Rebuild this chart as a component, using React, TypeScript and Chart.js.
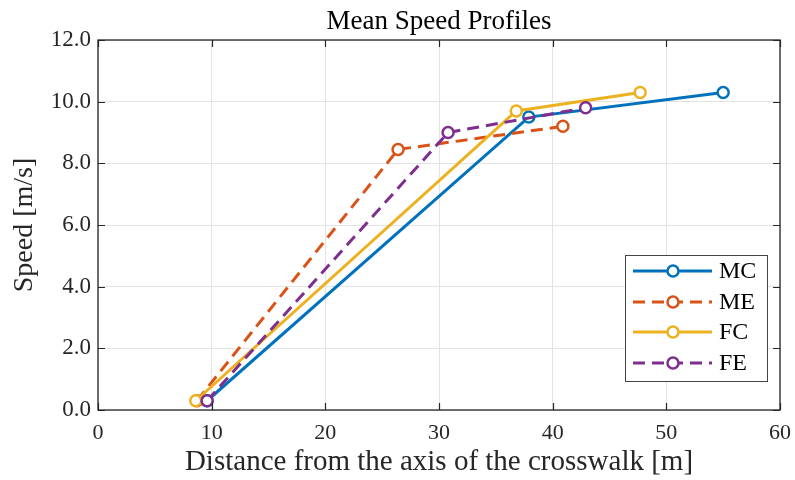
import React, { useEffect, useRef } from "react";
import { Chart, registerables } from "chart.js";

Chart.register(...registerables);

const seriesLabels = ["MC", "ME", "FC", "FE"];
const seriesColors = ["#0072BD", "#D95319", "#EDB120", "#7E2F8E"];
const seriesDashed = [false, true, false, true];

const mcX = [9.6, 37.9, 55.0];
const mcY = [0.3, 9.5, 10.3];
const meX = [8.7, 26.4, 40.9];
const meY = [0.3, 8.45, 9.2];
const fcX = [8.6, 36.8, 47.7];
const fcY = [0.3, 9.7, 10.3];
const feX = [9.6, 30.8, 42.9];
const feY = [0.3, 9.0, 9.8];

const xTicks = [0, 10, 20, 30, 40, 50, 60];
const yTicks = [0, 2, 4, 6, 8, 10, 12];

const titleText = "Mean Speed Profiles";
const xTitle = "Distance from the axis of the crosswalk [m]";
const yTitle = "Speed [m/s]";

const FONT = "'Liberation Serif', serif";
const DASH = [12, 7];

const xs = [mcX, meX, fcX, feX];
const ys = [mcY, meY, fcY, feY];

const frame = {
  id: "frame",
  afterDatasetsDraw(chart: any) {
    const { ctx, chartArea: a, scales } = chart;
    ctx.save();
    ctx.strokeStyle = "#262626";
    ctx.lineWidth = 1.2;
    const tl = 7;
    ctx.beginPath();
    for (const v of xTicks) {
      const px = Math.round(scales.x.getPixelForValue(v)) + 0.5;
      ctx.moveTo(px, a.bottom);
      ctx.lineTo(px, a.bottom - tl);
      ctx.moveTo(px, a.top);
      ctx.lineTo(px, a.top + tl);
    }
    for (const v of yTicks) {
      const py = Math.round(scales.y.getPixelForValue(v)) + 0.5;
      ctx.moveTo(a.left, py);
      ctx.lineTo(a.left + tl, py);
      ctx.moveTo(a.right, py);
      ctx.lineTo(a.right - tl, py);
    }
    ctx.stroke();
    ctx.lineWidth = 1.3;
    ctx.strokeRect(a.left, a.top, a.right - a.left, a.bottom - a.top);

    // title
    ctx.fillStyle = "#000";
    ctx.font = `27px ${FONT}`;
    ctx.textAlign = "center";
    ctx.textBaseline = "alphabetic";
    ctx.fillText(titleText, (a.left + a.right) / 2, 29);

    // legend
    const lx = 625, ly = 255, lw = 142, lh = 126;
    ctx.fillStyle = "#fff";
    ctx.fillRect(lx, ly, lw, lh);
    ctx.strokeStyle = "#444";
    ctx.lineWidth = 1;
    ctx.strokeRect(lx + 0.5, ly + 0.5, lw, lh);
    const rows = [271, 302, 332, 363];
    seriesLabels.forEach((lab, i) => {
      const y = rows[i];
      ctx.strokeStyle = seriesColors[i];
      ctx.lineWidth = 3;
      ctx.setLineDash(seriesDashed[i] ? DASH : []);
      ctx.beginPath();
      ctx.moveTo(633, y);
      ctx.lineTo(712, y);
      ctx.stroke();
      ctx.setLineDash([]);
      ctx.fillStyle = "#fff";
      ctx.lineWidth = 2.5;
      ctx.beginPath();
      ctx.arc(673, y, 5.5, 0, Math.PI * 2);
      ctx.fill();
      ctx.stroke();
      ctx.fillStyle = "#000";
      ctx.font = `24px ${FONT}`;
      ctx.textAlign = "left";
      ctx.textBaseline = "middle";
      ctx.fillText(lab, 719, y + 1);
    });
    ctx.restore();
  },
};

export default function App() {
  const ref = useRef<HTMLCanvasElement | null>(null);
  useEffect(() => {
    document.body.style.margin = "0";
    const canvas = ref.current!;
    const order = [3, 2, 1, 0];
    const chart = new Chart(canvas, {
      type: "line",
      data: {
        datasets: seriesLabels.map((lab, i) => ({
          label: lab,
          data: xs[i].map((x, j) => ({ x, y: ys[i][j] })),
          borderColor: seriesColors[i],
          backgroundColor: "#ffffff",
          pointBackgroundColor: "#ffffff",
          pointBorderColor: seriesColors[i],
          pointBorderWidth: 2.5,
          pointRadius: 5.5,
          borderWidth: 3,
          borderDash: seriesDashed[i] ? DASH : [],
          tension: 0,
          fill: false,
          order: order[i],
        })),
      },
      options: {
        animation: false,
        responsive: false,
        events: [],
        layout: { padding: { left: 0, right: 15, top: 40, bottom: 0 } },
        plugins: { legend: { display: false }, title: { display: false }, tooltip: { enabled: false } },
        scales: {
          x: {
            type: "linear",
            min: 0,
            max: 60,
            afterBuildTicks: (s: any) => {
              s.ticks = xTicks.map((v) => ({ value: v }));
            },
            afterFit: (s: any) => {
              s.height = 70;
              s.paddingLeft = 0;
              s.paddingRight = 0;
            },
            grid: { color: "#e3e3e3", lineWidth: 1, drawTicks: false },
            border: { display: false },
            ticks: {
              color: "#262626",
              font: { family: FONT, size: 22 },
              padding: 10,
              maxRotation: 0,
              callback: (v: any) => String(v),
            },
            title: {
              display: true,
              text: xTitle,
              color: "#262626",
              font: { family: FONT, size: 29 },
              padding: { top: 0, bottom: 0 },
            },
          },
          y: {
            type: "linear",
            min: 0,
            max: 12,
            afterBuildTicks: (s: any) => {
              s.ticks = yTicks.map((v) => ({ value: v }));
            },
            afterFit: (s: any) => {
              s.width = 98;
              s.paddingTop = 0;
              s.paddingBottom = 0;
            },
            grid: { color: "#e3e3e3", lineWidth: 1, drawTicks: false },
            border: { display: false },
            ticks: {
              color: "#262626",
              font: { family: FONT, size: 23 },
              padding: 7,
              callback: (v: any) => Number(v).toFixed(1),
            },
            title: {
              display: true,
              text: yTitle,
              color: "#262626",
              font: { family: FONT, size: 28 },
              padding: { top: 8, bottom: 0 },
            },
          },
        },
      },
      plugins: [frame],
    });
    return () => chart.destroy();
  }, []);
  return (
    <div style={{ width: 795, height: 480, background: "#fff" }}>
      <canvas ref={ref} width={795} height={480} style={{ display: "block" }} />
    </div>
  );
}
